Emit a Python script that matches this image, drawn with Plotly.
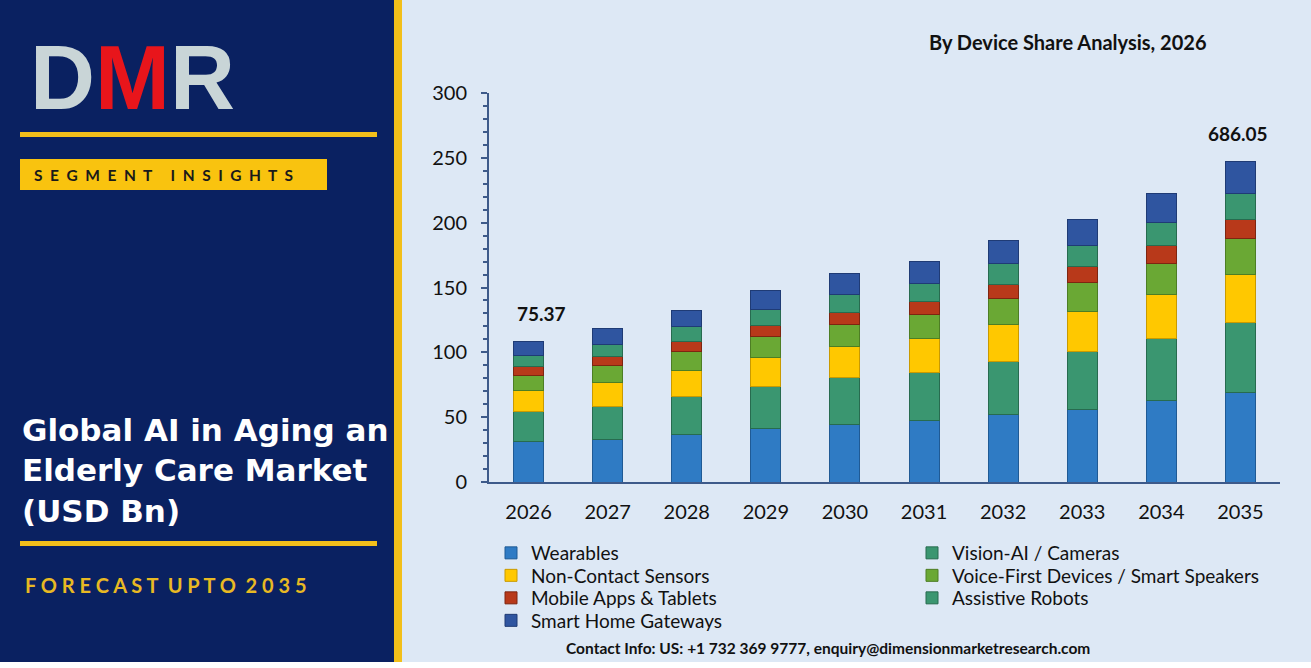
import plotly.graph_objects as go

W, H = 1311, 668

years = ["2026", "2027", "2028", "2029", "2030", "2031", "2032", "2033", "2034", "2035"]
wearables = [31.1, 32.9, 37.0, 41.4, 44.7, 47.8, 52.2, 56.1, 62.5, 69.2]
vision_ai = [23.1, 25.7, 28.8, 32.1, 35.7, 36.5, 40.6, 44.9, 48.3, 53.6]
non_contact = [16.2, 18.0, 20.0, 22.3, 23.9, 26.5, 28.8, 30.8, 33.9, 37.3]
voice_first = [12.1, 13.1, 14.7, 16.2, 17.3, 18.5, 20.0, 22.2, 23.9, 27.8]
mobile_apps = [6.4, 6.9, 8.2, 9.0, 9.2, 9.7, 11.1, 12.5, 14.1, 14.6]
assistive = [9.0, 9.8, 11.1, 12.1, 13.9, 14.2, 15.9, 16.2, 17.2, 20.1]
gateways = [10.8, 11.8, 12.8, 14.4, 16.2, 16.7, 18.0, 19.8, 22.7, 24.9]
label_texts = ["75.37", "", "", "", "", "", "", "", "", "686.05"]

series_names = ["Wearables", "Vision-AI / Cameras", "Non-Contact Sensors",
                "Voice-First Devices / Smart Speakers", "Mobile Apps & Tablets",
                "Assistive Robots", "Smart Home Gateways"]
series_values = [wearables, vision_ai, non_contact, voice_first, mobile_apps, assistive, gateways]
series_colors = ["#2f7bc4", "#3a9670", "#ffc800", "#6aa834", "#b8391a", "#3a9670", "#2f55a0"]
series_lines = ["#1f5a95", "#276b4f", "#c99a00", "#4d7e24", "#7e2510", "#276b4f", "#1f3b75"]
# one horizontal legend per legend row (two columns)
series_legend = ["legend", "legend", "legend2", "legend2", "legend3", "legend3", "legend4"]

fig = go.Figure()
for name, vals, col, lc, lg in zip(series_names, series_values, series_colors, series_lines, series_legend):
    fig.add_trace(go.Bar(x=years, y=vals, name=name, marker=dict(color=col, line=dict(color=lc, width=1)),
                         legend=lg))

totals = [sum(v) for v in zip(*series_values)]
for i, (tot, txt) in enumerate(zip(totals, label_texts)):
    if txt:
        fig.add_annotation(x=i, y=tot, text="<b>" + txt + "</b>", showarrow=False, xref="x", yref="y",
                           yanchor="bottom", yshift=14, xshift=13 if i == 0 else -2,
                           font=dict(family="Lato", size=19, color="#111111"))

# layout geometry
x0, x1 = 489 / W, 1280 / W
y0, y1 = 1 - 482 / H, 1 - 93 / H

shapes = [
    dict(type="rect", xref="paper", yref="paper", x0=0, x1=1, y0=1 - 662 / H, y1=1,
         fillcolor="#dde8f5", line_width=0, layer="below"),
    dict(type="rect", xref="paper", yref="paper", x0=0, x1=394 / W, y0=1 - 662 / H, y1=1,
         fillcolor="#0a2161", line_width=0, layer="below"),
    dict(type="rect", xref="paper", yref="paper", x0=394 / W, x1=402 / W, y0=1 - 662 / H, y1=1,
         fillcolor="#f2bf1a", line_width=0, layer="below"),
    dict(type="rect", xref="paper", yref="paper", x0=20 / W, x1=377 / W, y0=1 - 137 / H, y1=1 - 132 / H,
         fillcolor="#f2bf1a", line_width=0, layer="below"),
    dict(type="rect", xref="paper", yref="paper", x0=20 / W, x1=327 / W, y0=1 - 190 / H, y1=1 - 159 / H,
         fillcolor="#f9c30f", line_width=0, layer="below"),
    dict(type="rect", xref="paper", yref="paper", x0=20 / W, x1=377 / W, y0=1 - 546 / H, y1=1 - 541 / H,
         fillcolor="#f2bf1a", line_width=0, layer="below"),
]

annos = [
    dict(x=28 / W, y=1 - 78 / H, xref="paper", yref="paper", xanchor="left", yanchor="middle", showarrow=False,
         text="<span style='color:#c9d5d7'>D</span><span style='color:#e8151b'>M</span><span style='color:#c9d5d7'>R</span>",
         font=dict(family="Liberation Sans", size=90, color="#c9d5d7", weight="bold")),
    dict(x=32 / W, y=1 - 175 / H, xref="paper", yref="paper", xanchor="left", yanchor="middle", showarrow=False,
         text="<b>S  E  G  M  E  N  T     I  N  S  I  G  H  T  S</b>",
         font=dict(family="Lato", size=15.5, color="#1a1a1a")),
    dict(x=20 / W, y=1 - 470 / H, xref="paper", yref="paper", xanchor="left", yanchor="middle", showarrow=False,
         align="left",
         text="<b>Global AI in Aging an<br>Elderly Care Market<br>(USD Bn)</b>",
         font=dict(family="DejaVu Sans", size=31, color="#ffffff")),
    dict(x=23 / W, y=1 - 585 / H, xref="paper", yref="paper", xanchor="left", yanchor="middle", showarrow=False,
         text="<b>F O R E C A S T  U P T O  2 0 3 5</b>",
         font=dict(family="Lato", size=20, color="#e8b923")),
    dict(x=1068 / W, y=1 - 42 / H, xref="paper", yref="paper", xanchor="center", yanchor="middle", showarrow=False,
         text="<b>By Device Share Analysis, 2026</b>",
         font=dict(family="Lato", size=20, color="#111111")),
    dict(x=828 / W, y=1 - 648 / H, xref="paper", yref="paper", xanchor="center", yanchor="middle", showarrow=False,
         text="<b>Contact Info: US: +1 732 369 9777, enquiry@dimensionmarketresearch.com</b>",
         font=dict(family="Lato", size=15.5, color="#111111")),
]

legend_common = dict(xanchor="left", yanchor="top", orientation="h", traceorder="normal",
                     bgcolor="rgba(0,0,0,0)", font=dict(family="Lato", size=19, color="#111111"),
                     itemwidth=30, entrywidth=376, entrywidthmode="pixels")
row_centers = [553, 575.5, 598, 620.5]
legend_x = 491 / W

fig.update_layout(
    width=W, height=H,
    margin=dict(l=0, r=0, t=0, b=0, autoexpand=False),
    paper_bgcolor="#ffffff", plot_bgcolor="rgba(0,0,0,0)",
    barmode="stack", bargap=0.62,
    shapes=shapes,
    annotations=list(fig.layout.annotations) + annos,
    font=dict(family="Lato", color="#111111"),
    xaxis=dict(domain=[x0, x1], type="category", range=[-0.5, 9.5], showline=True, linecolor="#3d5a8a",
               linewidth=2, ticks="", tickfont=dict(size=20, color="#111111"), ticklabelstandoff=11,
               showgrid=False, automargin=False),
    yaxis=dict(domain=[y0, y1], range=[0, 300], dtick=50, showline=True, linecolor="#3d5a8a", linewidth=2,
               ticks="outside", ticklen=6, tickwidth=2, tickcolor="#3d5a8a",
               minor=dict(dtick=10, ticks="outside", ticklen=4, tickwidth=2, tickcolor="#3d5a8a"),
               tickfont=dict(size=20, color="#111111"), ticklabelstandoff=10, showgrid=False, zeroline=False,
               automargin=False),
    legend=dict(x=legend_x, y=1 - (row_centers[0] - 19) / H, **legend_common),
    legend2=dict(x=legend_x, y=1 - (row_centers[1] - 19) / H, **legend_common),
    legend3=dict(x=legend_x, y=1 - (row_centers[2] - 19) / H, **legend_common),
    legend4=dict(x=legend_x, y=1 - (row_centers[3] - 19) / H, **legend_common),
    showlegend=True,
)

fig.write_html("out.html")
